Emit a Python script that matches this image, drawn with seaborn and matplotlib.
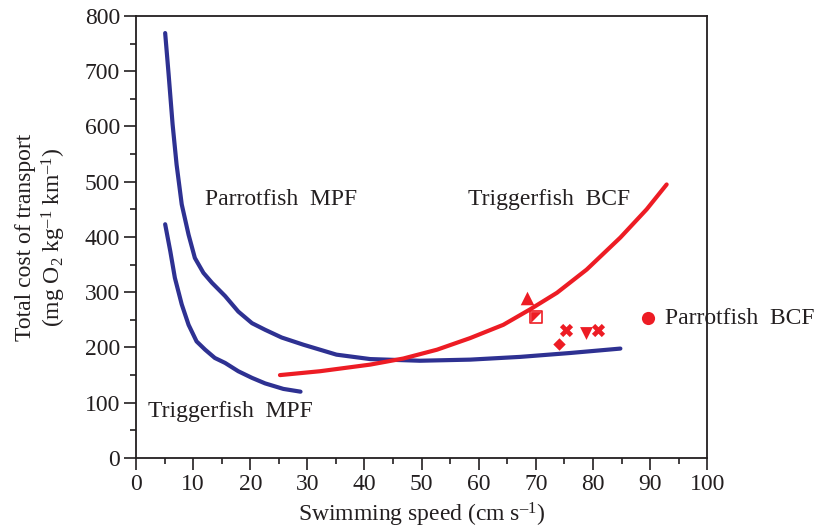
import numpy as np
import pandas as pd
import matplotlib
matplotlib.use("Agg")
import matplotlib.pyplot as plt
import seaborn as sns

# curves (speed cm/s, cost mg O2 kg-1 km-1)
parrot_mpf_x = [5.1, 5.7, 6.4, 7.1, 8.0, 9.2, 10.3, 11.8, 13.3, 15.6, 17.9, 20.3, 22.6,
                25.5, 29.3, 35.1, 41.0, 49.7, 58.5, 67.3, 76.0, 84.8]
parrot_mpf_y = [769, 695, 604, 531, 459, 404, 362, 335, 317, 293, 265, 244, 232,
                218, 205, 187, 179, 176, 178, 183, 190, 198]

trigger_mpf_x = [5.1, 6.0, 6.8, 8.0, 9.2, 10.6, 12.1, 13.8, 15.6, 17.9, 20.3, 22.6, 25.8, 28.8]
trigger_mpf_y = [423, 374, 326, 278, 241, 211, 196, 181, 172, 157, 145, 135, 125, 120]

trigger_bcf_x = [25.2, 32.2, 41.0, 46.8, 52.7, 58.5, 64.3, 69.0, 73.7, 78.9, 84.8, 89.4, 92.9]
trigger_bcf_y = [150, 157, 169, 180, 196, 217, 241, 269, 299, 341, 399, 450, 495]

# individual points
pt_triangle = (68.5, 289)
pt_halfsq = (70.1, 256)
pt_diamond = (74.1, 207)
pt_cross = ([75.3, 80.8], [232, 231])
pt_tridown = (78.8, 226)
pt_circle = (89.6, 254)

blue = "#2E3192"
red = "#ED1C24"
ink = "#231F20"

sns.set_style("ticks")
plt.rcParams['font.family'] = ['Liberation Serif', 'DejaVu Serif']
plt.rcParams['mathtext.fontset'] = 'custom'
plt.rcParams['mathtext.rm'] = 'Liberation Serif'
plt.rcParams['mathtext.it'] = 'Liberation Serif:italic'
plt.rcParams['lines.solid_joinstyle'] = 'round'

fig = plt.figure(figsize=(8.32, 5.31), dpi=100)
ax = fig.add_axes([0.1635, 0.1375, 0.6865, 0.8325])

sns.lineplot(x=parrot_mpf_x, y=parrot_mpf_y, color=blue, lw=3.0, ax=ax, sort=False)
sns.lineplot(x=trigger_mpf_x, y=trigger_mpf_y, color=blue, lw=3.0, ax=ax, sort=False)
sns.lineplot(x=trigger_bcf_x, y=trigger_bcf_y, color=red, lw=3.0, ax=ax, sort=False)

sns.scatterplot(x=[pt_triangle[0]], y=[pt_triangle[1]], marker="^", s=95, color=red, linewidth=0, ax=ax, zorder=5)
sns.scatterplot(x=[pt_halfsq[0]], y=[pt_halfsq[1]], marker="s", s=85, facecolor="white", edgecolor=red, linewidth=1.2, ax=ax, zorder=5)
sns.scatterplot(x=[pt_halfsq[0]], y=[pt_halfsq[1]], marker=[(-1, -1), (-1, 1), (1, 1), (-1, -1)], s=60, color=red, linewidth=0, ax=ax, zorder=6)
sns.scatterplot(x=[pt_diamond[0]], y=[pt_diamond[1]], marker="D", s=40, color=red, linewidth=0, ax=ax, zorder=5)
sns.scatterplot(x=pt_cross[0], y=pt_cross[1], marker="X", s=90, color=red, linewidth=0, ax=ax, zorder=5)
sns.scatterplot(x=[pt_tridown[0]], y=[pt_tridown[1]], marker="v", s=85, color=red, linewidth=0, ax=ax, zorder=5)
sns.scatterplot(x=[pt_circle[0]], y=[pt_circle[1]], marker="o", s=90, color=red, linewidth=0, ax=ax, zorder=5)

fs = 17
ax.text(12.1, 468, "Parrotfish  MPF", fontsize=fs, va="center", color=ink)
ax.text(58.1, 468, "Triggerfish  BCF", fontsize=fs, va="center", color=ink)
ax.text(2.1, 85, "Triggerfish  MPF", fontsize=fs, va="center", color=ink)
ax.text(92.6, 252, "Parrotfish  BCF", fontsize=fs, va="center", color=ink)

ax.set_xlim(0, 100)
ax.set_ylim(0, 800)
ax.set_xticks(np.arange(0, 101, 10))
ax.set_yticks(np.arange(0, 801, 100))
ax.set_xticks(np.arange(5, 100, 10), minor=True)
ax.set_yticks(np.arange(50, 800, 100), minor=True)
ax.tick_params(which="major", direction="out", length=8.5, width=1.2, labelsize=fs, colors=ink, pad=3)
ax.tick_params(which="minor", direction="out", length=4, width=1.2, colors=ink)

for sp in ax.spines.values():
    sp.set_visible(True)
    sp.set_linewidth(1.3)
    sp.set_color(ink)

ax.set_xlabel("Swimming speed (cm s$^{–1}$)", fontsize=fs, color=ink, labelpad=4)
ax.set_ylabel("Total cost of transport\n(mg O$_2$ kg$^{–1}$ km$^{–1}$)", fontsize=fs, color=ink, labelpad=12)

fig.savefig("out.png", dpi=100)
